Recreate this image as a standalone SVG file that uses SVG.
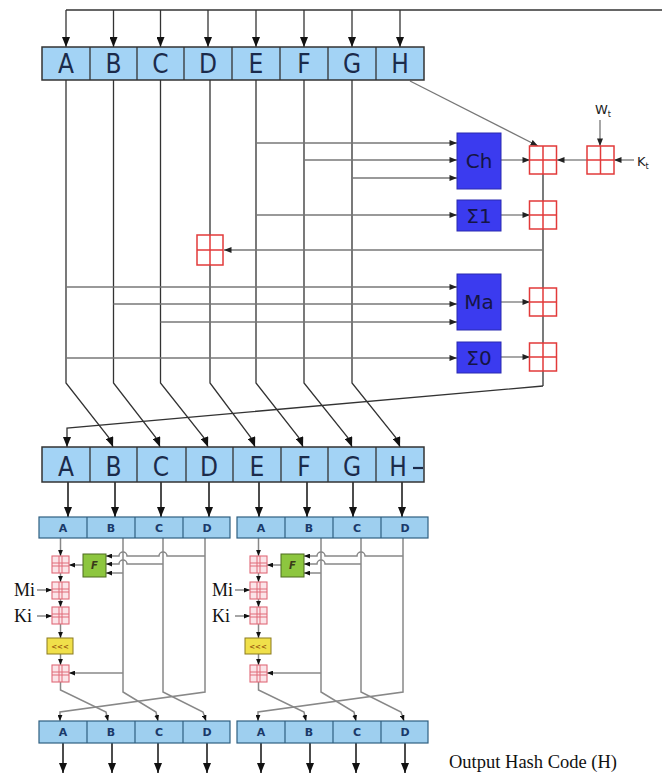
<svg xmlns="http://www.w3.org/2000/svg" width="662" height="773" viewBox="0 0 662 773">
<style>
.reg{fill:#a3d3f5;stroke:#333;stroke-width:1.5}
.div{stroke:#333;stroke-width:1.3}
.rl{font-family:'DejaVu Sans Condensed','DejaVu Sans',sans-serif;font-size:26px;fill:#1b2b4b;text-anchor:middle}
.mreg{fill:#9ecfef;stroke:#2f5f80;stroke-width:1.2}
.mdiv{stroke:#2f5f80;stroke-width:1.2}
.ml{font-family:'DejaVu Sans',sans-serif;font-size:11px;font-weight:bold;fill:#1a3a6a;text-anchor:middle}
.fn{fill:#3b3bef;stroke:#2a2ab0;stroke-width:1}
.fl{font-family:'DejaVu Sans',sans-serif;font-size:20px;fill:#151545;text-anchor:middle}
.add{fill:#fff;stroke:#e23a3a;stroke-width:1.5}
.madd{fill:#fbe4e8;stroke:#e06a78;stroke-width:1.1}
.mx{fill:none;stroke:#e06a78;stroke-width:1}
.w{fill:none;stroke:#333;stroke-width:1.3}
.wg{fill:none;stroke:#777;stroke-width:1.3}
.m{fill:none;stroke:#888;stroke-width:1.5}
.b{fill:none;stroke:#111;stroke-width:1.5}
.ser{font-family:'Liberation Serif',serif;fill:#111}
.lab{font-family:'DejaVu Sans',sans-serif;font-size:13px;fill:#222}
</style>
<defs>
<marker id="ah" viewBox="0 0 10 8" refX="10" refY="4" markerWidth="10" markerHeight="8" markerUnits="userSpaceOnUse" orient="auto"><path d="M0,0 L10,4 L0,8 Z" fill="#111"/></marker>
<marker id="as" viewBox="0 0 10 8" refX="10" refY="4" markerWidth="8" markerHeight="6" markerUnits="userSpaceOnUse" orient="auto"><path d="M0,0 L10,4 L0,8 Z" fill="#222"/></marker>
<marker id="at" viewBox="0 0 10 8" refX="10" refY="4" markerWidth="6" markerHeight="5" markerUnits="userSpaceOnUse" orient="auto"><path d="M0,0 L10,4 L0,8 Z" fill="#111"/></marker>
<g id="madder">
  <rect class="madd" x="-8.5" y="-8.5" width="17" height="17"/>
  <path class="mx" d="M-1.5,-8.5 V8.5 M1.5,-8.5 V8.5 M-8.5,-1.5 H8.5 M-8.5,1.5 H8.5"/>
</g>
</defs>

<g id="connectors">
  <path class="w" d="M66,10 H662"/>
  <path class="w" marker-end="url(#ah)" d="M66,10 V47"/>
  <path class="w" marker-end="url(#ah)" d="M113.5,10 V47"/>
  <path class="w" marker-end="url(#ah)" d="M160.5,10 V47"/>
  <path class="w" marker-end="url(#ah)" d="M208,10 V47"/>
  <path class="w" marker-end="url(#ah)" d="M256,10 V47"/>
  <path class="w" marker-end="url(#ah)" d="M304,10 V47"/>
  <path class="w" marker-end="url(#ah)" d="M352,10 V47"/>
  <path class="w" marker-end="url(#ah)" d="M400,10 V47"/>
  <path class="w" marker-end="url(#ah)" d="M66,80 V383 L110,439 L113,447"/>
  <path class="w" marker-end="url(#ah)" d="M113.5,80 V383 L157,439 L160,447"/>
  <path class="w" marker-end="url(#ah)" d="M160.5,80 V383 L205,439 L208,447"/>
  <path class="w" marker-end="url(#ah)" d="M210,80 V383 L252,439 L255,447"/>
  <path class="w" marker-end="url(#ah)" d="M256,80 V383 L300,439 L303,447"/>
  <path class="w" marker-end="url(#ah)" d="M304,80 V383 L349,439 L352,447"/>
  <path class="w" marker-end="url(#ah)" d="M352,80 V383 L397,439 L400,447"/>
  <path class="wg" marker-end="url(#as)" d="M410,81 L538,146"/>
  <path class="wg" marker-end="url(#as)" d="M256,143 H457"/>
  <path class="wg" marker-end="url(#as)" d="M304,160 H457"/>
  <path class="wg" marker-end="url(#as)" d="M352,178 H457"/>
  <path class="wg" marker-end="url(#as)" d="M256,215 H457"/>
  <path class="wg" marker-end="url(#as)" d="M66,287 H457"/>
  <path class="wg" marker-end="url(#as)" d="M113.5,304 H457"/>
  <path class="wg" marker-end="url(#as)" d="M160.5,322 H457"/>
  <path class="wg" marker-end="url(#as)" d="M66,358 H457"/>
  <path class="wg" marker-end="url(#as)" d="M501,160 H530"/>
  <path class="wg" marker-end="url(#as)" d="M501,215 H530"/>
  <path class="wg" marker-end="url(#as)" d="M501,302 H530"/>
  <path class="wg" marker-end="url(#as)" d="M501,357 H530"/>
  <path class="wg" marker-end="url(#as)" d="M600,120 V146"/>
  <path class="wg" marker-end="url(#as)" d="M634,160 H614"/>
  <path class="wg" marker-end="url(#as)" d="M587,160 H557"/>
  <path class="w" d="M543,160 V386"/>
  <path class="wg" marker-end="url(#as)" d="M543,250 H224"/>
  <path class="w" marker-end="url(#ah)" d="M543,386 L67,428 L67,447"/>
  <path class="b" marker-end="url(#ah)" d="M68,482 V517"/>
  <path class="b" marker-end="url(#ah)" d="M115,482 V517"/>
  <path class="b" marker-end="url(#ah)" d="M161,482 V517"/>
  <path class="b" marker-end="url(#ah)" d="M209,482 V517"/>
  <path class="b" marker-end="url(#ah)" d="M259,482 V517"/>
  <path class="b" marker-end="url(#ah)" d="M307,482 V517"/>
  <path class="b" marker-end="url(#ah)" d="M353,482 V517"/>
  <path class="b" marker-end="url(#ah)" d="M402,482 V517"/>
  <g id="md5-wires-left">
    <path class="m" marker-end="url(#at)" d="M60.5,538 V556"/>
    <path class="m" marker-end="url(#at)" d="M83,565 H69"/>
    <path class="m" marker-end="url(#at)" d="M60.5,573 V582"/>
    <path class="m" marker-end="url(#at)" d="M60.5,599 V607"/>
    <path class="m" marker-end="url(#at)" d="M60.5,624 V638"/>
    <path class="m" marker-end="url(#at)" d="M60.5,654 V665"/>
    <path class="m" marker-end="url(#at)" d="M37,590 H52"/>
    <path class="m" marker-end="url(#at)" d="M37,616 H52"/>
    <path class="m" marker-end="url(#at)" d="M60.5,682 V690 L106,712 L108,721"/>
    <path class="m" marker-end="url(#at)" d="M123,538 V692 L156,712 L158,721"/>
    <path class="m" marker-end="url(#at)" d="M123,673 H69"/>
    <path class="m" marker-end="url(#at)" d="M123,573 H106"/>
    <path class="m" marker-end="url(#at)" d="M163,538 V692 L203,712 L206,721"/>
    <path class="m" marker-end="url(#at)" d="M163,564 H127 A4,4 0 0 0 119,564 H106"/>
    <path class="m" marker-end="url(#at)" d="M205,538 V692 L60,712 L60,721"/>
    <path class="m" marker-end="url(#at)" d="M205,556 H167 A4,4 0 0 0 159,556 H127 A4,4 0 0 0 119,556 H106"/>
    <path class="b" stroke-width="1.8" marker-end="url(#ah)" d="M63,743 V773"/>
    <path class="b" stroke-width="1.8" marker-end="url(#ah)" d="M112,743 V773"/>
    <path class="b" stroke-width="1.8" marker-end="url(#ah)" d="M158,743 V773"/>
    <path class="b" stroke-width="1.8" marker-end="url(#ah)" d="M207,743 V773"/>
  </g>
  <g id="md5-wires-right" transform="translate(198,0)">
    <path class="m" marker-end="url(#at)" d="M60.5,538 V556"/>
    <path class="m" marker-end="url(#at)" d="M83,565 H69"/>
    <path class="m" marker-end="url(#at)" d="M60.5,573 V582"/>
    <path class="m" marker-end="url(#at)" d="M60.5,599 V607"/>
    <path class="m" marker-end="url(#at)" d="M60.5,624 V638"/>
    <path class="m" marker-end="url(#at)" d="M60.5,654 V665"/>
    <path class="m" marker-end="url(#at)" d="M37,590 H52"/>
    <path class="m" marker-end="url(#at)" d="M37,616 H52"/>
    <path class="m" marker-end="url(#at)" d="M60.5,682 V690 L106,712 L108,721"/>
    <path class="m" marker-end="url(#at)" d="M123,538 V692 L156,712 L158,721"/>
    <path class="m" marker-end="url(#at)" d="M123,673 H69"/>
    <path class="m" marker-end="url(#at)" d="M123,573 H106"/>
    <path class="m" marker-end="url(#at)" d="M163,538 V692 L203,712 L206,721"/>
    <path class="m" marker-end="url(#at)" d="M163,564 H127 A4,4 0 0 0 119,564 H106"/>
    <path class="m" marker-end="url(#at)" d="M205,538 V692 L60,712 L60,721"/>
    <path class="m" marker-end="url(#at)" d="M205,556 H167 A4,4 0 0 0 159,556 H127 A4,4 0 0 0 119,556 H106"/>
    <path class="b" stroke-width="1.8" marker-end="url(#ah)" d="M63,743 V773"/>
    <path class="b" stroke-width="1.8" marker-end="url(#ah)" d="M112,743 V773"/>
    <path class="b" stroke-width="1.8" marker-end="url(#ah)" d="M158,743 V773"/>
    <path class="b" stroke-width="1.8" marker-end="url(#ah)" d="M207,743 V773"/>
  </g>
</g>

<g id="register1">
  <rect class="reg" x="42" y="47" width="382" height="33"/>
  <path class="div" d="M90,47 V80 M137,47 V80 M184,47 V80 M232,47 V80 M280,47 V80 M328,47 V80 M376,47 V80"/>
  <text class="rl" x="66" y="73">A</text><text class="rl" x="113.5" y="73">B</text><text class="rl" x="160.5" y="73">C</text><text class="rl" x="208" y="73">D</text>
  <text class="rl" x="256" y="73">E</text><text class="rl" x="304" y="73">F</text><text class="rl" x="352" y="73">G</text><text class="rl" x="400" y="73">H</text>
</g>

<g id="register2">
  <rect class="reg" x="42" y="447" width="382" height="35"/>
  <path class="div" d="M90,447 V482 M137,447 V482 M186,447 V482 M233,447 V482 M281,447 V482 M328,447 V482 M376,447 V482"/>
  <text class="rl" x="66" y="476">A</text><text class="rl" x="113.5" y="476">B</text><text class="rl" x="161" y="476">C</text><text class="rl" x="209" y="476">D</text>
  <text class="rl" x="257" y="476">E</text><text class="rl" x="304" y="476">F</text><text class="rl" x="352" y="476">G</text><text class="rl" x="398" y="476">H</text>
  <path d="M413,468 H423" stroke="#1b2b4b" stroke-width="2.2"/>
</g>

<g id="ch"><rect class="fn" x="457" y="133" width="44" height="56"/><text class="fl" x="479" y="168">Ch</text></g>
<g id="sigma1"><rect class="fn" x="457" y="200" width="44" height="31"/><text class="fl" x="479" y="223">Σ1</text></g>
<g id="ma"><rect class="fn" x="457" y="274" width="44" height="56"/><text class="fl" x="479" y="309">Ma</text></g>
<g id="sigma0"><rect class="fn" x="457" y="342" width="44" height="31"/><text class="fl" x="479" y="365">Σ0</text></g>

<g id="add-h"><rect class="add" x="529.5" y="146" width="27" height="28"/><path class="add" d="M543,146 V174 M529.5,160 H556.5"/></g>
<g id="add-s1"><rect class="add" x="529.5" y="201" width="27" height="28"/><path class="add" d="M543,201 V229 M529.5,215 H556.5"/></g>
<g id="add-ma"><rect class="add" x="529.5" y="288" width="27" height="28"/><path class="add" d="M543,288 V316 M529.5,302 H556.5"/></g>
<g id="add-s0"><rect class="add" x="529.5" y="343" width="27" height="28"/><path class="add" d="M543,343 V371 M529.5,357 H556.5"/></g>
<g id="add-wk"><rect class="add" x="587" y="146" width="27" height="28"/><path class="add" d="M600.5,146 V174 M587,160 H614"/></g>
<g id="add-d"><rect class="add" x="197" y="235" width="26" height="30"/><path class="add" d="M210,235 V265 M197,250 H223"/></g>

<g id="wt"><text class="lab" x="595" y="114">W<tspan font-size="8" dy="3">t</tspan></text></g>
<g id="kt"><text class="lab" x="637" y="166">K<tspan font-size="8" dy="3">t</tspan></text></g>

<g id="md5-left">
  <rect class="mreg" x="39" y="517" width="191" height="21"/>
  <path class="mdiv" d="M87,517 V538 M135,517 V538 M183,517 V538"/>
  <text class="ml" x="63" y="532">A</text><text class="ml" x="111" y="532">B</text><text class="ml" x="159" y="532">C</text><text class="ml" x="207" y="532">D</text>
  <use href="#madder" x="60.5" y="564.5"/>
  <use href="#madder" x="60.5" y="590.5"/>
  <use href="#madder" x="60.5" y="615.5"/>
  <use href="#madder" x="60.5" y="673.5"/>
  <rect x="47" y="638" width="26" height="16" fill="#f0e04a" stroke="#8a7a20" stroke-width="1"/>
  <text x="60" y="649" font-family="DejaVu Sans,sans-serif" font-size="7" font-weight="bold" fill="#9a5a10" text-anchor="middle">&lt;&lt;&lt;</text>
  <rect x="83" y="554" width="23" height="23" fill="#8dc63f" stroke="#4d6b1f" stroke-width="1"/>
  <text x="94.5" y="569" font-family="DejaVu Sans,sans-serif" font-size="10" font-weight="bold" font-style="italic" fill="#3a3a1a" text-anchor="middle">F</text>
  <text class="ser" x="14" y="596" font-size="18">Mi</text>
  <text class="ser" x="14" y="622" font-size="18">Ki</text>
  <rect class="mreg" x="39" y="721" width="191" height="22"/>
  <path class="mdiv" d="M87,721 V743 M135,721 V743 M183,721 V743"/>
  <text class="ml" x="63" y="736">A</text><text class="ml" x="111" y="736">B</text><text class="ml" x="159" y="736">C</text><text class="ml" x="207" y="736">D</text>
</g>

<g id="md5-right" transform="translate(198,0)">
  <rect class="mreg" x="39" y="517" width="191" height="21"/>
  <path class="mdiv" d="M87,517 V538 M135,517 V538 M183,517 V538"/>
  <text class="ml" x="63" y="532">A</text><text class="ml" x="111" y="532">B</text><text class="ml" x="159" y="532">C</text><text class="ml" x="207" y="532">D</text>
  <use href="#madder" x="60.5" y="564.5"/>
  <use href="#madder" x="60.5" y="590.5"/>
  <use href="#madder" x="60.5" y="615.5"/>
  <use href="#madder" x="60.5" y="673.5"/>
  <rect x="47" y="638" width="26" height="16" fill="#f0e04a" stroke="#8a7a20" stroke-width="1"/>
  <text x="60" y="649" font-family="DejaVu Sans,sans-serif" font-size="7" font-weight="bold" fill="#9a5a10" text-anchor="middle">&lt;&lt;&lt;</text>
  <rect x="83" y="554" width="23" height="23" fill="#8dc63f" stroke="#4d6b1f" stroke-width="1"/>
  <text x="94.5" y="569" font-family="DejaVu Sans,sans-serif" font-size="10" font-weight="bold" font-style="italic" fill="#3a3a1a" text-anchor="middle">F</text>
  <text class="ser" x="14" y="596" font-size="18">Mi</text>
  <text class="ser" x="14" y="622" font-size="18">Ki</text>
  <rect class="mreg" x="39" y="721" width="191" height="22"/>
  <path class="mdiv" d="M87,721 V743 M135,721 V743 M183,721 V743"/>
  <text class="ml" x="63" y="736">A</text><text class="ml" x="111" y="736">B</text><text class="ml" x="159" y="736">C</text><text class="ml" x="207" y="736">D</text>
</g>

<g id="output-label"><text class="ser" x="449" y="768" font-size="18.5">Output Hash Code (H)</text></g>
</svg>
